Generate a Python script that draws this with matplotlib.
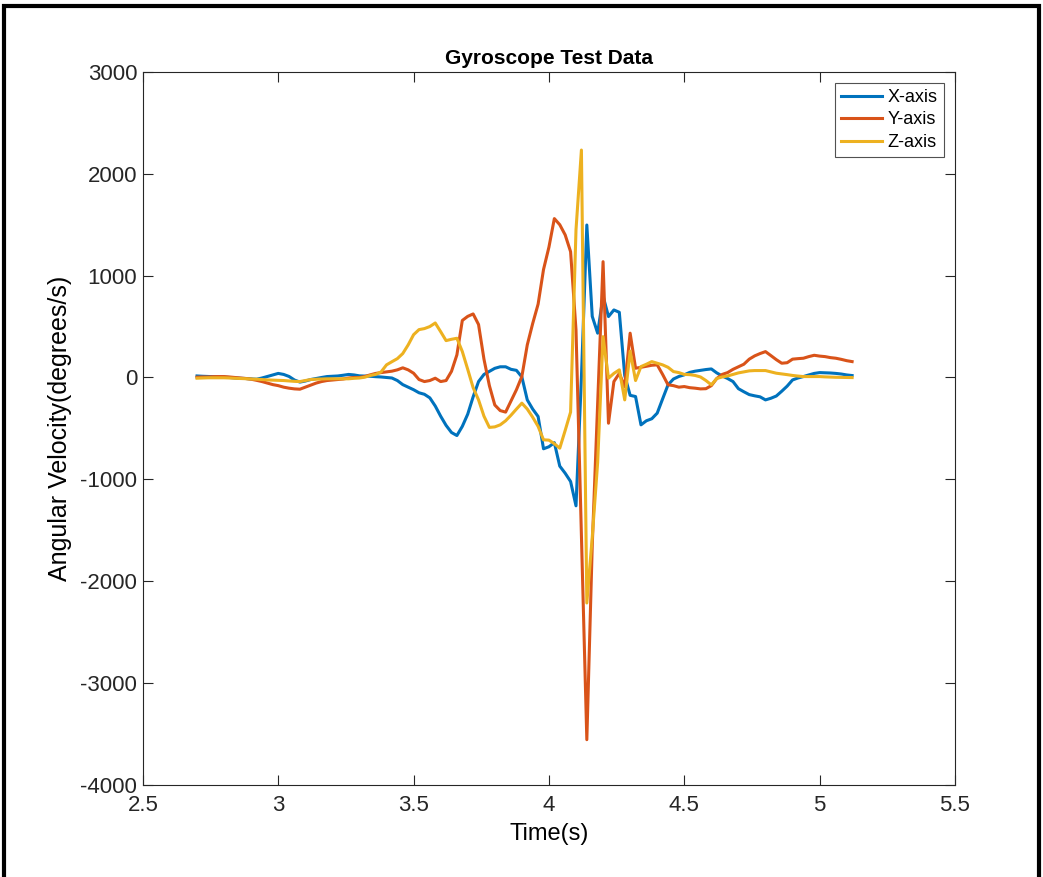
import numpy as np
import matplotlib
matplotlib.use("Agg")
import matplotlib.pyplot as plt
from matplotlib.patches import Rectangle

# time base (s), 0.02 s sampling
time_s = np.round(np.arange(2.70, 5.1201, 0.02), 2)

# angular velocity (deg/s)
gyro_x = [
    15, 12, 10, 8, 5, 3, 0, -5, -8, -10,
    -14, -17, -5, 10, 25, 40, 30, 10, -25, -45,
    -35, -20, -10, 0, 9, 12, 15, 22, 30, 25,
    16, 14, 12, 8, 5, 0, -5, -30, -70, -95,
    -120, -150, -165, -200, -280, -380, -470, -540, -570, -480,
    -360, -190, -40, 30, 60, 90, 105, 105, 80, 70,
    5, -220, -310, -383, -700, -680, -640, -870, -940, -1021,
    -1260, 0, 1497, 600, 435, 800, 598, 663, 640, 20,
    -175, -187, -465, -425, -405, -350, -210, -72, -15, 10,
    26, 50, 62, 70, 78, 84, 45, 15, -10, -40,
    -110, -140, -168, -180, -190, -220, -204, -182, -135, -85,
    -24, -5, 9, 25, 40, 48, 46, 44, 40, 34,
    25, 19,
]
gyro_y = [
    3, 5, 5, 8, 9, 9, 5, 0, -5, -10,
    -17, -28, -40, -55, -70, -80, -95, -105, -112, -115,
    -95, -75, -55, -40, -30, -25, -20, -15, -5, 0,
    0, 10, 26, 40, 48, 55, 62, 75, 95, 75,
    42, -20, -40, -30, -7, -40, -30, 60, 222, 560,
    600, 624, 520, 180, -80, -270, -325, -340, -230, -120,
    10, 320, 530, 720, 1060, 1280, 1560, 1500, 1400, 1235,
    467, -1550, -3556, -1650, -255, 1137, -449, -40, 40, -90,
    435, 91, 100, 110, 120, 124, 30, -72, -80, -95,
    -89, -100, -105, -112, -110, -80, -10, 30, 48, 80,
    105, 130, 180, 212, 235, 254, 215, 175, 140, 145,
    180, 185, 189, 205, 218, 210, 205, 195, 189, 178,
    165, 156,
]
gyro_z = [
    -7, -5, -3, -3, -3, -3, -5, -8, -10, -12,
    -15, -17, -20, -24, -26, -28, -30, -34, -38, -40,
    -30, -20, -17, -15, -13, -13, -13, -13, -13, -8,
    -5, 3, 20, 30, 55, 124, 155, 185, 235, 320,
    420, 470, 480, 500, 535, 450, 362, 375, 385, 255,
    80, -100, -220, -380, -490, -485, -465, -425, -370, -310,
    -252, -310, -390, -480, -612, -615, -650, -694, -520, -340,
    1450, 2233, -2214, -1569, -834, 401, -7, 40, 75, -220,
    260, -30, 107, 130, 156, 140, 124, 100, 58, 48,
    30, 28, 20, 5, -30, -72, -10, 5, 15, 30,
    45, 55, 65, 68, 68, 68, 55, 42, 35, 28,
    20, 14, 9, 9, 9, 9, 6, 4, 2, 1,
    0, -1,
]
series_names = ["X-axis", "Y-axis", "Z-axis"]
series_colors = ["#0072BD", "#D95319", "#EDB120"]

plt.rcParams.update({
    "font.family": ["Liberation Sans", "DejaVu Sans"],
    "axes.unicode_minus": False,
    "axes.edgecolor": "#262626", "axes.linewidth": 0.8,
    "xtick.color": "#262626", "ytick.color": "#262626",
    "xtick.direction": "in", "ytick.direction": "in",
    "xtick.top": True, "ytick.right": True,
    "xtick.major.size": 7, "ytick.major.size": 7,
    "xtick.labelsize": 16, "ytick.labelsize": 16,
})

fig = plt.figure(figsize=(10.43, 8.77), dpi=100)
ax = fig.add_axes([0.137, 0.105, 0.7786, 0.813])

for vals, name, col in zip([gyro_x, gyro_y, gyro_z], series_names, series_colors):
    ax.plot(time_s, vals, color=col, lw=2.2, label=name)

ax.set_xlim(2.5, 5.5)
ax.set_ylim(-4000, 3000)
ax.set_xticks([2.5, 3, 3.5, 4, 4.5, 5, 5.5])
ax.set_xticklabels(["2.5", "3", "3.5", "4", "4.5", "5", "5.5"])
ax.set_yticks(range(-4000, 3001, 1000))
ax.tick_params(axis="x", pad=7)
ax.tick_params(axis="y", pad=4)

ax.set_title("Gyroscope Test Data", fontsize=15, fontweight="bold", pad=6)
ax.set_xlabel("Time(s)", fontsize=17, labelpad=5)
ax.set_ylabel("Angular Velocity(degrees/s)", fontsize=18, labelpad=6)

leg = ax.legend(loc="upper right", fontsize=13, frameon=True, fancybox=False,
                handlelength=2.3, handletextpad=0.3, borderpad=0.35,
                labelspacing=0.3, borderaxespad=0.6)
leg.get_frame().set_edgecolor("#262626")
leg.get_frame().set_linewidth(0.8)

# black frame round the whole picture
fig.patches.append(Rectangle((0.004, -0.01), 0.992, 1.003, transform=fig.transFigure,
                             fill=False, edgecolor="black", lw=3))

fig.savefig("out.png", dpi=100, facecolor="white")
